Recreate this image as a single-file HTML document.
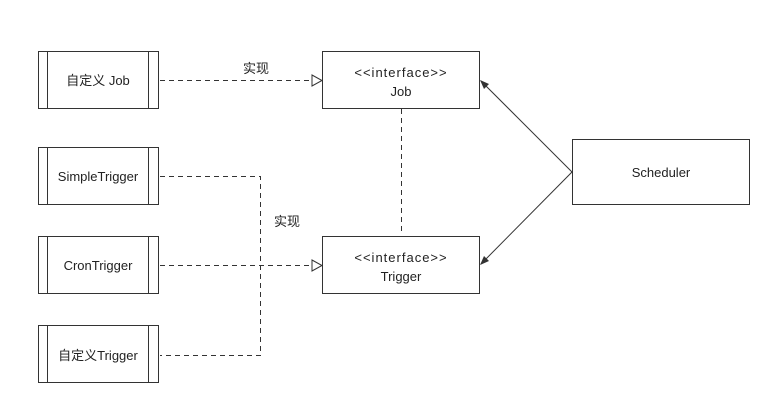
<!DOCTYPE html>
<html><head><meta charset="utf-8"><style>
body{margin:0;background:#fff}
svg text{font-family:"Liberation Sans","Noto Sans CJK SC",sans-serif;font-size:13px;fill:#222}
</style></head><body>
<svg width="784" height="411" viewBox="0 0 784 411" xmlns="http://www.w3.org/2000/svg">
<g fill="none" stroke="#333" stroke-width="1">
<rect x="38.5" y="51.5" width="120" height="57"/><line x1="47.5" y1="51" x2="47.5" y2="108"/><line x1="148.5" y1="51" x2="148.5" y2="108"/>
<rect x="38.5" y="147.5" width="120" height="57"/><line x1="47.5" y1="147" x2="47.5" y2="204"/><line x1="148.5" y1="147" x2="148.5" y2="204"/>
<rect x="38.5" y="236.5" width="120" height="57"/><line x1="47.5" y1="236" x2="47.5" y2="293"/><line x1="148.5" y1="236" x2="148.5" y2="293"/>
<rect x="38.5" y="325.5" width="120" height="57"/><line x1="47.5" y1="325" x2="47.5" y2="382"/><line x1="148.5" y1="325" x2="148.5" y2="382"/>
<rect x="322.5" y="51.5" width="157" height="57"/>
<rect x="322.5" y="236.5" width="157" height="57"/>
<rect x="572.5" y="139.5" width="177" height="65"/>
<g stroke-dasharray="5,4">
<line x1="160" y1="80.5" x2="312" y2="80.5"/>
<line x1="401.5" y1="109" x2="401.5" y2="231"/>
<polyline points="160,176.5 260.5,176.5 260.5,355.5 160,355.5"/>
<line x1="160" y1="265.5" x2="312" y2="265.5"/>
</g>
<polygon points="312,75 322,80.5 312,86" fill="#fff"/>
<polygon points="312,260 322,265.5 312,271" fill="#fff"/>
<line x1="572" y1="172" x2="481" y2="81"/>
<line x1="572" y1="172" x2="481" y2="264"/>
</g>
<polygon points="480,80 489,84 484,89" fill="#333"/>
<polygon points="480,265 484,256 489,261" fill="#333"/>
<text x="98" y="85" text-anchor="middle">自定义 Job</text>
<text x="98" y="181" text-anchor="middle">SimpleTrigger</text>
<text x="98" y="270" text-anchor="middle">CronTrigger</text>
<text x="98" y="360" text-anchor="middle">自定义Trigger</text>
<text x="401" y="77" text-anchor="middle" letter-spacing="1">&lt;&lt;interface&gt;&gt;</text>
<text x="401" y="96" text-anchor="middle">Job</text>
<text x="401" y="262" text-anchor="middle" letter-spacing="1">&lt;&lt;interface&gt;&gt;</text>
<text x="401" y="281" text-anchor="middle">Trigger</text>
<text x="661" y="177" text-anchor="middle">Scheduler</text>
<text x="256" y="73" text-anchor="middle">实现</text>
<text x="287" y="226" text-anchor="middle">实现</text>
</svg>
</body></html>
